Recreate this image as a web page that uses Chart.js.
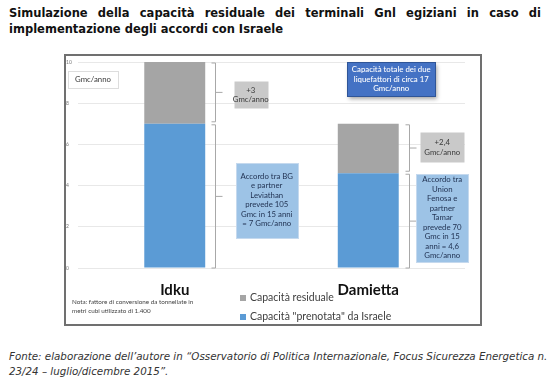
<!DOCTYPE html>
<html>
<head>
<meta charset="utf-8">
<script src="https://cdn.jsdelivr.net/npm/chart.js@4.4.1/dist/chart.umd.min.js"></script>
<style>
body { margin:0; background:#fff; width:550px; height:385px; position:relative; overflow:hidden; font-family:"DejaVu Sans", Verdana, sans-serif; }
.title { position:absolute; left:9px; top:5px; width:532px; font-weight:bold; font-size:11.5px; color:#111; line-height:16px; }
.foot { position:absolute; left:9px; top:349px; width:532px; font-style:italic; font-size:10.3px; color:#333; line-height:15px; }
.just { text-align:justify; text-align-last:justify; white-space:nowrap; }
.frame { position:absolute; left:64px; top:54px; width:414px; height:268px; border:2px solid #707070; }
</style>
</head>
<body>
<div class="title">
  <div class="just">Simulazione della capacità residuale dei terminali Gnl egiziani in caso di</div>
  <div>implementazione degli accordi con Israele</div>
</div>
<div class="frame"><canvas id="myChart" width="414" height="268"></canvas></div>
<div class="foot">
  <div class="just">Fonte: elaborazione dell’autore in “Osservatorio di Politica Internazionale, Focus Sicurezza Energetica n.</div>
  <div>23/24 – luglio/dicembre 2015”.</div>
</div>
<script>
const categories = ['Idku', 'Damietta'];
const prenotata = [7, 4.6];
const residuale = [3, 2.4];
const yTicks = [0, 2, 4, 6, 8, 10];

// text boxes next to the bars (bar index, offset in px, y in data units)
const notes = [
  { bar: 0, dx: 76, y: 8.4, w: 34, h: 27, fill: '#c9c9c9', stroke: null, color: '#3a3a3a', lines: ['+3', 'Gmc/anno'] },
  { bar: 0, dx: 92, y: 3.3, w: 62, h: 75, fill: '#9dc3e6', stroke: '#c5d9ee', color: '#1f3050', lines: ['Accordo tra BG', 'e partner', 'Leviathan', 'prevede 105', 'Gmc in 15 anni', '= 7 Gmc/anno'] },
  { bar: 1, dx: 74, y: 5.85, w: 44, h: 30, fill: '#c9c9c9', stroke: null, color: '#3a3a3a', lines: ['+2,4', 'Gmc/anno'] },
  { bar: 1, dx: 74, y: 2.45, w: 52, h: 88, fill: '#9dc3e6', stroke: '#c5d9ee', color: '#1f3050', lines: ['Accordo tra', 'Union', 'Fenosa e', 'partner', 'Tamar', 'prevede 70', 'Gmc in 15', 'anni = 4,6', 'Gmc/anno'] },
  { bar: 1, dx: 23, y: 9.17, w: 88, h: 34, fill: '#4472c4', stroke: '#2f5597', color: '#ffffff', shadow: true, lines: ['Capacità totale dei due', 'liquefattori di circa 17', 'Gmc/anno'] }
];

function brace(ctx, x, top, bot) {
  const mid = (top + bot) / 2;
  ctx.save();
  ctx.strokeStyle = '#a8a8a8';
  ctx.lineWidth = 1;
  ctx.beginPath();
  ctx.moveTo(x - 4, top); ctx.lineTo(x, top); ctx.lineTo(x, bot); ctx.lineTo(x - 4, bot);
  ctx.moveTo(x, mid); ctx.lineTo(x + 7, mid);
  ctx.stroke();
  ctx.restore();
}

function textBox(ctx, cx, cy, n) {
  const x0 = Math.round(cx - n.w / 2) + 0.5, y0 = Math.round(cy - n.h / 2) + 0.5;
  ctx.save();
  if (n.shadow) {
    ctx.shadowColor = 'rgba(0,0,0,0.35)';
    ctx.shadowBlur = 4;
    ctx.shadowOffsetX = 1;
    ctx.shadowOffsetY = 2;
  }
  ctx.fillStyle = n.fill;
  ctx.fillRect(x0, y0, n.w, n.h);
  ctx.shadowColor = 'transparent';
  if (n.stroke) {
    ctx.strokeStyle = n.stroke;
    ctx.lineWidth = 1;
    ctx.strokeRect(x0, y0, n.w, n.h);
  }
  ctx.fillStyle = n.color;
  ctx.font = (n.shadow ? '500 ' : '') + '7.8px Lato';
  ctx.textAlign = 'center';
  ctx.textBaseline = 'middle';
  const lh = 9.5;
  const start = cy - (n.lines.length - 1) * lh / 2;
  n.lines.forEach((t, i) => ctx.fillText(t, cx, start + i * lh));
  ctx.restore();
}

const extras = {
  id: 'extras',
  afterDatasetsDraw(chart) {
    const { ctx, chartArea: a, scales: { x, y } } = chart;
    const bars = chart.getDatasetMeta(0).data;

    categories.forEach((c, i) => {
      const bx = Math.round(bars[i].x + bars[i].width / 2 + 10) + 0.5;
      brace(ctx, bx, y.getPixelForValue(prenotata[i] + residuale[i]) + 1, y.getPixelForValue(prenotata[i]) - 2);
      brace(ctx, bx, y.getPixelForValue(prenotata[i]) + 1, y.getPixelForValue(0));
    });

    notes.forEach(n => textBox(ctx, x.getPixelForValue(n.bar) + n.dx, y.getPixelForValue(n.y), n));

    // unit label box
    textBox(ctx, a.left + 15, y.getPixelForValue(9.15),
      { w: 50, h: 17, fill: '#ffffff', stroke: '#dddddd', color: '#3a3a3a', lines: ['Gmc/anno'] });

    // legend (grey first, then blue)
    ctx.save();
    ctx.font = '10.5px Lato';
    ctx.textBaseline = 'middle';
    const legendItems = [1, 0];
    legendItems.forEach((di, k) => {
      const ds = chart.data.datasets[di];
      const ly = a.bottom + 30 + k * 19;
      ctx.fillStyle = ds.backgroundColor;
      ctx.fillRect(a.left + 162, ly - 3, 6, 6);
      ctx.fillStyle = '#404040';
      ctx.fillText(ds.label, a.left + 172, ly);
    });

    // note
    ctx.font = '6.3px Lato';
    ctx.fillStyle = '#444';
    ctx.fillText('Nota: fattore di conversione da tonnellate in', 6, a.bottom + 34);
    ctx.fillText('metri cubi utilizzato di 1.400', 6, a.bottom + 43);
    ctx.restore();
  }
};

const data = {
  labels: categories,
  datasets: [
    { label: 'Capacità "prenotata" da Israele', data: prenotata, backgroundColor: '#5b9bd5' },
    { label: 'Capacità residuale', data: residuale, backgroundColor: '#a5a5a5' }
  ]
};

const ctx = document.getElementById('myChart');

new Chart(ctx, {
  type: 'bar',
  data: data,
  plugins: [extras],
  options: {
    responsive: false,
    animation: false,
    barPercentage: 0.315,
    categoryPercentage: 1,
    layout: { padding: { top: 6, right: 15, left: 0, bottom: 0 } },
    plugins: { legend: { display: false }, tooltip: { enabled: false } },
    scales: {
      x: {
        stacked: true,
        grid: { display: false, drawTicks: false },
        border: { display: false },
        ticks: { color: '#111', font: { family: 'Lato', size: 15, weight: 'bold' }, padding: 13 },
        afterFit: s => { s.height = 56; }
      },
      y: {
        stacked: true,
        min: 0,
        max: 10,
        afterBuildTicks: s => { s.ticks = yTicks.map(v => ({ value: v })); },
        grid: { color: '#e8e8e8', drawTicks: false },
        border: { display: false },
        ticks: { color: '#777', font: { family: 'Lato', size: 5 }, padding: 0, crossAlign: 'far' },
        afterFit: s => { s.width = 12; }
      }
    }
  }
});
</script>
</body>
</html>
